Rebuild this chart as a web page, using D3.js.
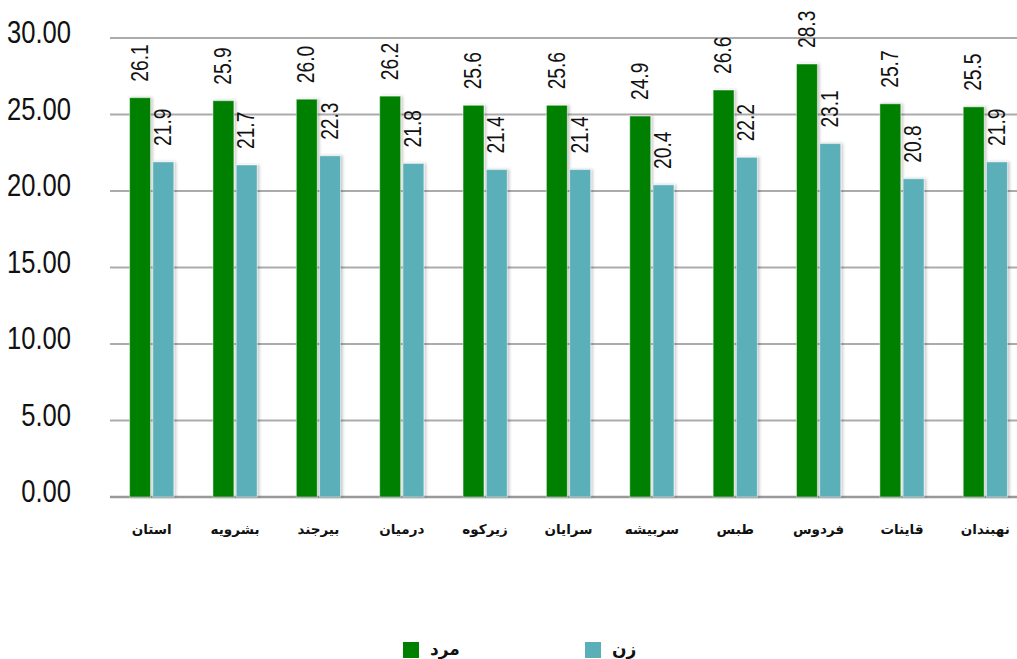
<!DOCTYPE html>
<html>
<head>
<meta charset="utf-8">
<script src="https://cdn.jsdelivr.net/npm/d3@7"></script>
<style>
  body { margin: 0; background: #fff; }
  svg { display: block; }
</style>
</head>
<body>
<svg id="chart"></svg>
<script>
const categories = ['استان', 'بشرویه', 'بیرجند', 'درمیان', 'زیرکوه', 'سرایان', 'سربیشه', 'طبس', 'فردوس', 'قاینات', 'نهبندان'];
const male = [26.1, 25.9, 26.0, 26.2, 25.6, 25.6, 24.9, 26.6, 28.3, 25.7, 25.5];
const female = [21.9, 21.7, 22.3, 21.8, 21.4, 21.4, 20.4, 22.2, 23.1, 20.8, 21.9];
const seriesNames = ['مرد', 'زن'];
const seriesColors = ['#008000', '#5aafb9'];
const yTicks = [0, 5, 10, 15, 20, 25, 30];

const width = 1017;
const height = 659;
const margin = { top: 38, right: 0, bottom: 160, left: 110 };
const narrow = 0.8; // squeeze to mimic a condensed face

const data = categories.map((c, i) => ({ cat: c, values: [male[i], female[i]] }));

const svg = d3.select('#chart')
  .attr('width', width)
  .attr('height', height);

const defs = svg.append('defs');
const shadow = defs.append('filter')
  .attr('id', 'shadow')
  .attr('x', '-30%').attr('y', '-10%')
  .attr('width', '160%').attr('height', '120%');
shadow.append('feDropShadow')
  .attr('dx', 2).attr('dy', 0)
  .attr('stdDeviation', 1.6)
  .attr('flood-color', '#000')
  .attr('flood-opacity', 0.22);

const x0 = d3.scaleBand()
  .domain(categories)
  .range([margin.left, 1027])
  .paddingInner(0.47)
  .paddingOuter(0.235);

const x1 = d3.scaleBand()
  .domain([0, 1])
  .range([0, x0.bandwidth()])
  .paddingInner(0.1);

const y = d3.scaleLinear()
  .domain([0, 30])
  .range([height - margin.bottom - 2, margin.top]);

// gridlines
svg.append('g')
  .selectAll('line')
  .data(yTicks)
  .enter().append('line')
  .attr('x1', margin.left)
  .attr('x2', width)
  .attr('y1', d => y(d))
  .attr('y2', d => y(d))
  .attr('stroke', d => d === 0 ? '#999' : '#ababab')
  .attr('stroke-width', d => d === 0 ? 2.5 : 2);

// y labels
svg.append('g')
  .selectAll('text')
  .data(yTicks)
  .enter().append('text')
  .attr('transform', d => `translate(71,${y(d) + 5}) scale(${narrow},1)`)
  .attr('text-anchor', 'end')
  .style('font-family', '"Liberation Sans", Arial, sans-serif')
  .style('font-size', '32px')
  .attr('fill', '#111')
  .text(d => d.toFixed(2));

// bars
const groups = svg.append('g')
  .selectAll('g')
  .data(data)
  .enter().append('g')
  .attr('transform', d => `translate(${x0(d.cat)},0)`);

groups.selectAll('rect')
  .data(d => d.values)
  .enter().append('rect')
  .attr('x', (d, i) => x1(i))
  .attr('y', d => y(d))
  .attr('width', x1.bandwidth())
  .attr('height', d => y(0) - y(d))
  .attr('fill', (d, i) => seriesColors[i])
  .attr('stroke', 'rgba(255,255,255,0.45)')
  .attr('stroke-width', 1)
  .attr('filter', 'url(#shadow)');

// value labels
groups.selectAll('text')
  .data(d => d.values)
  .enter().append('text')
  .attr('transform', (d, i) => `translate(${x1(i) + x1.bandwidth() / 2 - 1},${y(d) - 16}) rotate(-90) scale(${narrow},1)`)
  .attr('dy', '0.36em')
  .attr('text-anchor', 'start')
  .style('font-family', '"Liberation Sans", Arial, sans-serif')
  .style('font-size', '24px')
  .attr('fill', '#111')
  .text(d => d.toFixed(1));

// category labels
svg.append('g')
  .selectAll('text')
  .data(categories)
  .enter().append('text')
  .attr('x', d => x0(d) + x0.bandwidth() / 2)
  .attr('y', 534)
  .attr('text-anchor', 'middle')
  .style('font-family', '"DejaVu Sans", sans-serif')
  .style('font-weight', 'bold')
  .style('font-size', '13.5px')
  .attr('fill', '#111')
  .text(d => d);

// legend
const legendX = [403, 585];
const legend = svg.append('g')
  .selectAll('g')
  .data(seriesNames)
  .enter().append('g')
  .attr('transform', (d, i) => `translate(${legendX[i]},642)`);

legend.append('rect')
  .attr('width', 16)
  .attr('height', 16)
  .attr('fill', (d, i) => seriesColors[i]);

legend.append('text')
  .attr('x', 27)
  .attr('y', 13)
  .attr('direction', 'rtl')
  .attr('text-anchor', 'end')
  .style('font-family', '"DejaVu Sans", sans-serif')
  .style('font-weight', 'bold')
  .style('font-size', '17px')
  .attr('fill', '#111')
  .text(d => d);
</script>
</body>
</html>
